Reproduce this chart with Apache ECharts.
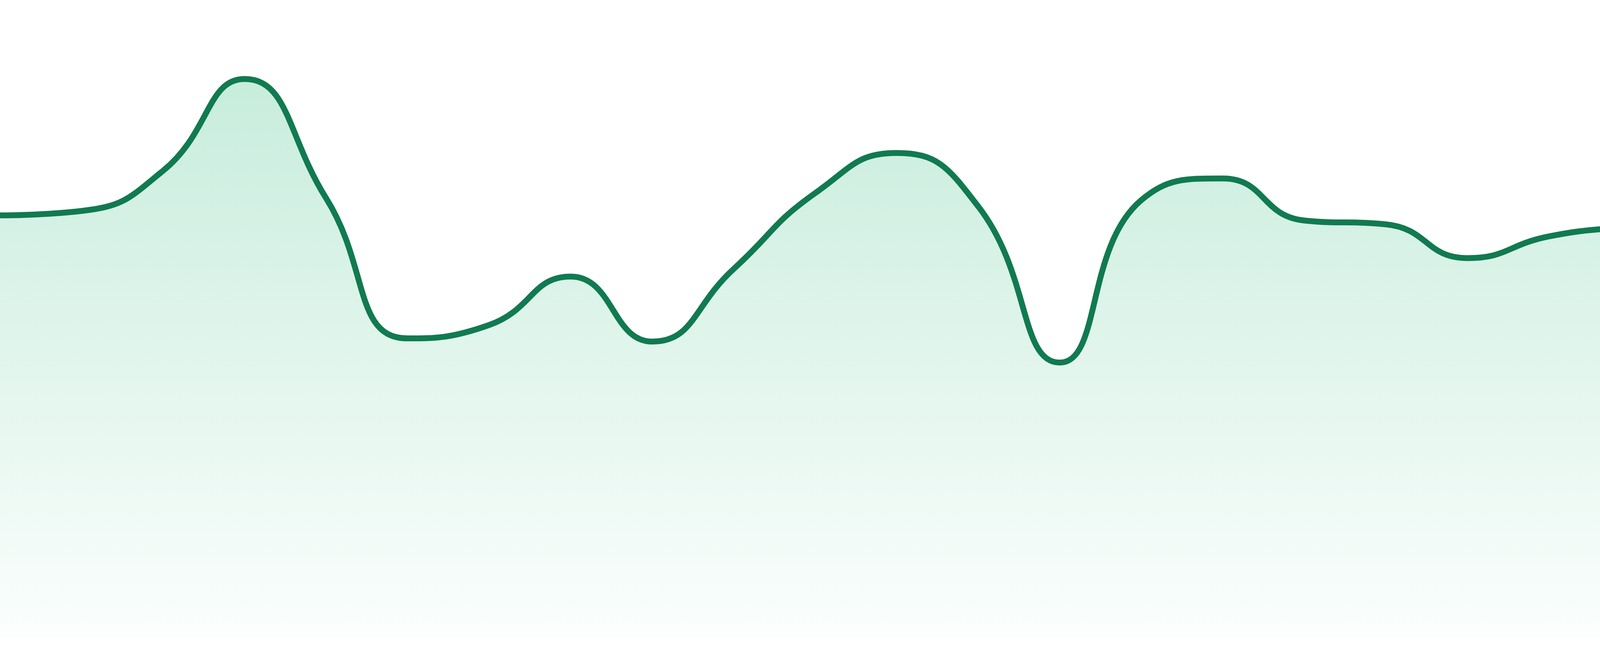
<!DOCTYPE html>
<html>
<head>
<meta charset="utf-8">
<script src="https://cdn.jsdelivr.net/npm/echarts@6/dist/echarts.min.js"></script>
<title>sparkline</title>
<style>
  html, body { margin: 0; padding: 0; background: #fff; }
</style>
</head>
<body>
<div id="main" style="width:4800px;height:1680px;"></div>
<script type="text/javascript">
// 24 evenly spaced points, no axis labels in the picture
var categories = ['1','2','3','4','5','6','7','8','9','10','11','12',
                  '13','14','15','16','17','18','19','20','21','22','23','24'];
var values = [66.2, 66.9, 73.2, 87.6, 68.9, 46.9, 49.0, 56.6, 46.4, 57.8, 69.7, 76.0,
              67.6, 43.1, 68.6, 72.0, 65.4, 64.8, 59.5, 62.9, 64.6, 66.6, 70.5, 79.5];

var myChart = echarts.init(document.getElementById('main'));

var option = {
    animation: false,
    grid: { left: 0, right: 0, top: 0, bottom: 48 },
    xAxis: {
        type: 'category',
        boundaryGap: false,
        data: categories,
        show: false
    },
    yAxis: {
        type: 'value',
        min: 0,
        max: 100,
        show: false
    },
    series: [{
        type: 'line',
        data: values,
        smooth: true,
        symbol: 'none',
        lineStyle: { color: '#117a51', width: 15 },
        areaStyle: {
            color: new echarts.graphic.LinearGradient(0, 0, 0, 1, [
                { offset: 0, color: '#afe4cd' },
                { offset: 1, color: '#f9fdfb' }
            ])
        }
    }]
};
myChart.setOption(option);
</script>
</body>
</html>
